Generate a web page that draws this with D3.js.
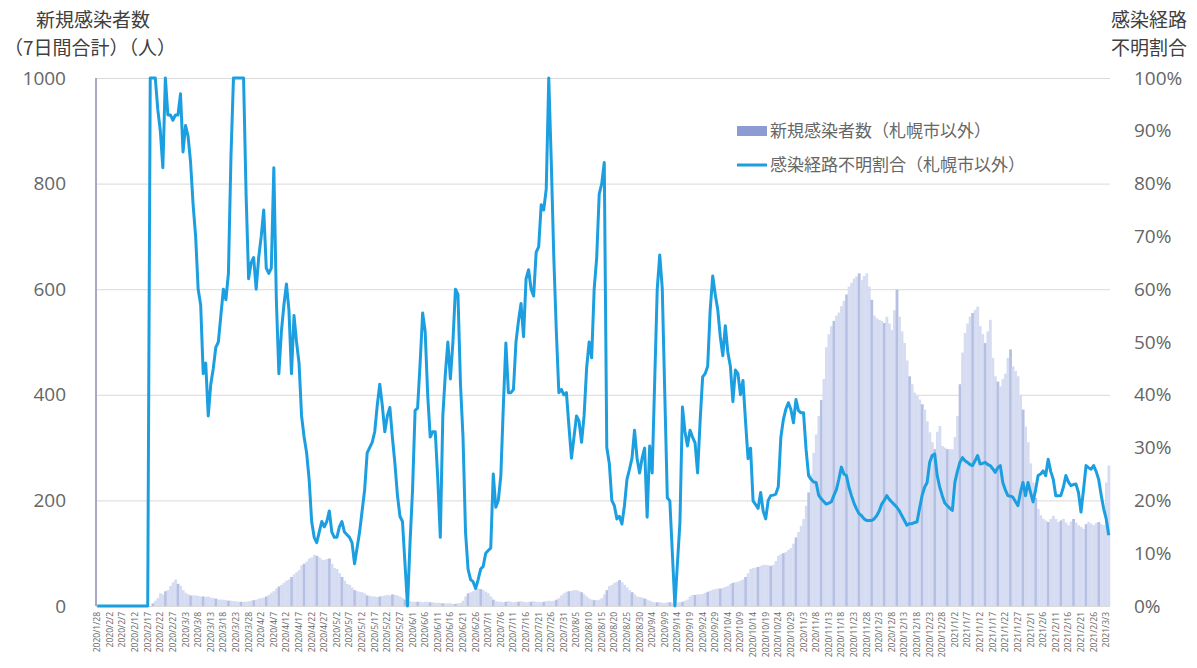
<!DOCTYPE html>
<meta charset="utf-8">
<style>
body { margin: 0; background: #fff; }
svg text { font-family: "Open Sans", "Noto Sans CJK JP", sans-serif; fill: #595959; }
svg .jp { font-family: "Noto Sans CJK JP", sans-serif; }
.grid line { stroke: #d9d9d9; stroke-width: 1; }
.grid path { display: none; }
.line { fill: none; stroke: #1c9fe0; stroke-width: 3px; stroke-linejoin: round; }
</style>
<body>
<script src="https://d3js.org/d3.v7.min.js"></script>
<script>
// daily categories, 2020/1/28 .. 2021/3/4
var startDay = new Date(2020, 0, 28);
var endDay = new Date(2021, 2, 5);
var days = d3.timeDay.range(startDay, endDay);
var fmtDay = d3.timeFormat("%Y/%-m/%-d");
var tickIdx = d3.range(0, days.length, 5);
var tickLabels = tickIdx.map(function(i) { return fmtDay(days[i]); });

var leftTicks = [0, 200, 400, 600, 800, 1000];
var rightTicks = [0, 10, 20, 30, 40, 50, 60, 70, 80, 90, 100];

// 新規感染者数（7日間合計, 札幌市以外）
var cases = [
  0,0,0,0,0,0,0,0,0,0,
  0,0,0,0,0,0,0,0,0,0,
  0,0,5,10,15,24,22,28,30,38,
  45,50,42,38,30,25,22,20,20,20,
  19,18,18,17,18,16,15,14,12,12,
  12,11,10,10,9,9,8,8,8,8,
  9,10,11,12,14,15,16,18,21,25,
  28,33,37,40,44,48,50,55,60,64,
  68,77,80,84,90,92,97,95,92,88,
  87,89,90,80,72,70,62,55,48,42,
  40,35,30,28,27,26,24,20,19,18,
  18,17,18,19,20,21,20,22,21,20,
  18,15,12,10,9,8,8,8,8,7,
  8,8,7,7,6,6,6,5,5,5,
  5,4,4,5,6,10,18,24,26,28,
  30,33,32,30,27,24,18,12,9,8,
  8,7,8,9,8,7,8,8,9,8,
  7,8,8,9,8,8,7,8,9,10,
  9,10,12,15,20,24,27,28,29,30,
  30,28,26,22,18,14,12,11,11,12,
  15,22,30,38,40,44,46,49,45,40,
  35,30,26,22,18,17,16,14,12,10,
  8,7,7,7,6,6,7,7,6,6,
  7,7,8,10,12,18,21,21,22,22,
  23,25,27,29,31,32,33,33,34,36,
  38,42,44,45,46,48,50,55,62,70,
  72,73,74,76,78,78,77,76,78,85,
  95,98,100,102,106,110,118,130,140,152,
  165,190,215,250,290,325,360,390,430,490,
  515,530,540,550,556,568,578,590,605,612,
  620,624,630,617,625,630,605,580,550,545,
  542,540,536,548,535,523,560,599,548,520,
  498,465,435,420,404,398,391,382,372,350,
  329,310,297,330,341,303,300,297,297,297,
  320,360,420,480,517,535,548,555,561,567,
  530,515,498,520,542,470,435,425,416,430,
  440,470,486,454,445,435,400,372,340,310,
  270,234,205,184,172,165,162,159,165,171,
  165,159,162,165,158,153,160,165,158,153,
  150,146,155,159,156,153,157,159,155,153,
  234,266
];

// 感染経路不明割合（%, 札幌市以外）
var unknownRatio = [
  0,0,0,0,0,0,0,0,0,0,
  0,0,0,0,0,0,0,0,0,0,
  0,100,100,100,94,90,83,100,93,93,
  92,93,93,97,86,91,89,84,76,70,
  60,57,44,46,36,42,45,49,50,55,
  60,58,63,85,100,100,100,100,100,78,
  62,65,66,60,66,70,75,64,63,64,
  83,58,44,52,57,61,56,44,55,50,
  46,36,32,29,24,16,13,12,14,16,
  15,16,18,14,13,13,15,16,14,13.5,
  13,12,8,11,14,18,22,29,30,31,
  33,38,42,38,33,36,37.6,32,27,21,
  17,16,8,0,12,22,37,37.5,46,55.5,
  52,40,32,33,33,24,13,36,44,50,
  43,50,60,59,42,32,14,7,5,4.6,
  3.3,5,7,7.5,10,10.5,11,25,18.7,20,
  24.7,38,49.8,40.4,40.4,41,50,54,57.3,51,
  62,63.7,60,58.7,67,68,76,75,79,100,
  84,66,52,40.4,41,40,40.4,34,28,32,
  36,35,31,36,45,50,47,60,66,78,
  80,84,30,27,20,19,16.5,17,15.5,19,
  24,25.9,28,33.3,28,25.2,28,29.9,16.8,30.3,
  25.2,42.7,60,66.5,60.1,40,20.5,19.9,10,0,
  8,15.8,37.7,33,30.3,33.3,32,30.9,25.2,35,
  43.4,44,45.4,56.1,62.5,59,56.1,51,47.4,53.1,
  48,45.4,38.7,44.7,44,40,42.7,35,27.9,29.9,
  19.9,19.2,18.5,21.5,18,16.5,20,20.9,21,21.2,
  22.6,31.9,35.3,37.3,38.5,37.2,34.7,39.1,37,36.6,
  36.6,29.7,24.7,24,23.5,23.4,21,20.3,19.8,19.3,
  19.5,19.7,20.9,22,24,26.3,25,24.7,22.5,20.9,
  19.5,18.4,17.5,17.1,16.5,16.2,16.2,16.2,16.5,17.1,
  18,19.3,20,20.9,20.2,19.7,19.2,18.7,18,17.1,
  16.2,15.3,15.6,15.6,15.8,15.9,18.5,20.9,22.5,23.4,
  27.2,28.5,28.8,24.7,22.5,20.9,19.5,19,18.5,18.1,
  23.4,25.5,27.2,28.1,27.5,27.2,26.8,26.6,27.5,28.5,
  26.9,27,27.2,26.8,26.6,26,25.3,26.2,26.6,23.4,
  22,20.9,20.8,20.6,19.8,19,21.5,23.4,20.9,23.4,
  21.5,19.7,22,24.7,25,25.6,24.7,27.8,25.5,24,
  20.9,20.9,20.9,22.5,24.7,23.5,22.8,23,23.1,21.5,
  17.8,22,26.6,26.2,25.9,26.6,25.5,24,21,18.4,
  16.5,13.4
];

var W = 1197, H = 668;
var margin = {top: 78, right: 87, bottom: 62, left: 96};
var x0 = margin.left, x1 = W - margin.right, yTop = margin.top, yBot = H - margin.bottom;

var svg = d3.select("body").append("svg")
    .attr("width", W)
    .attr("height", H);

var x = d3.scaleBand().domain(d3.range(days.length)).range([x0, x1]).padding(0);
var yL = d3.scaleLinear().domain([0, 1000]).range([yBot, yTop]);
var yR = d3.scaleLinear().domain([0, 100]).range([yBot, yTop]);

// gridlines
svg.append("g")
    .attr("class", "grid")
    .attr("transform", "translate(" + x0 + ",0)")
    .call(d3.axisLeft(yL).tickValues(leftTicks).tickSize(-(x1 - x0)).tickFormat(""));

// bars (every 5th a bit darker, like the striped look of the original)
svg.append("g").selectAll("rect")
    .data(cases)
  .enter().append("rect")
    .attr("x", function(d, i) { return x(i); })
    .attr("width", x.bandwidth() + 0.3)
    .attr("y", function(d) { return yL(d); })
    .attr("height", function(d) { return yBot - yL(d); })
    .attr("fill", function(d, i) { return i % 5 === 2 ? "#b6c0e2" : "#d6dcf1"; });

// left vertical axis line
svg.append("line")
    .attr("x1", x0).attr("x2", x0)
    .attr("y1", yTop).attr("y2", yBot)
    .attr("stroke", "#aaa6c8")
    .attr("stroke-width", 2);

// ratio line
var valueline = d3.line()
    .x(function(d, i) { return x(i) + x.bandwidth() / 2; })
    .y(function(d) { return yR(d); });

svg.append("path")
    .datum(unknownRatio)
    .attr("class", "line")
    .attr("d", valueline);

// left axis
var gl = svg.append("g")
    .attr("transform", "translate(" + x0 + ",0)")
    .call(d3.axisLeft(yL).tickValues(leftTicks).tickSize(0).tickPadding(30).tickFormat(d3.format("d")));
gl.select(".domain").remove();
gl.selectAll("text").style("font-size", "19px").style("fill", "#666");

// right axis
var gr = svg.append("g")
    .attr("transform", "translate(" + x1 + ",0)")
    .call(d3.axisRight(yR).tickValues(rightTicks).tickSize(0).tickPadding(24).tickFormat(function(d) { return d + "%"; }));
gr.select(".domain").remove();
gr.selectAll("text").style("font-size", "19px").style("fill", "#666");

// bottom axis
var gb = svg.append("g")
    .attr("transform", "translate(0," + yBot + ")")
    .call(d3.axisBottom(x).tickValues(tickIdx).tickSize(0).tickFormat(function(i) { return fmtDay(days[i]); }));
gb.select(".domain").remove();
gb.selectAll("text")
    .attr("x", -6)
    .attr("y", 0)
    .attr("dy", "0.35em")
    .attr("transform", "rotate(-90)")
    .style("text-anchor", "end")
    .style("font-size", "8.5px")
    .style("fill", "#666");

// axis titles
svg.append("text").attr("class", "jp")
    .attr("x", 93).attr("y", 20).attr("dy", "0.35em")
    .style("text-anchor", "middle").style("font-size", "19px").style("fill", "#404040")
    .text("新規感染者数");
svg.append("text").attr("class", "jp")
    .attr("x", 90).attr("y", 48).attr("dy", "0.35em")
    .style("text-anchor", "middle").style("font-size", "19px").style("fill", "#404040")
    .text("（7日間合計）（人）");
svg.append("text").attr("class", "jp")
    .attr("x", 1149).attr("y", 20).attr("dy", "0.35em")
    .style("text-anchor", "middle").style("font-size", "19px").style("fill", "#404040")
    .text("感染経路");
svg.append("text").attr("class", "jp")
    .attr("x", 1149).attr("y", 48).attr("dy", "0.35em")
    .style("text-anchor", "middle").style("font-size", "19px").style("fill", "#404040")
    .text("不明割合");

// legend
var legend = svg.append("g");
legend.append("rect")
    .attr("x", 737).attr("y", 126).attr("width", 30).attr("height", 10)
    .attr("fill", "#8c9cd2");
legend.append("text").attr("class", "jp")
    .attr("x", 770).attr("y", 131).attr("dy", "0.35em")
    .style("font-size", "17px").style("fill", "#666")
    .text("新規感染者数（札幌市以外）");
legend.append("line")
    .attr("x1", 737).attr("x2", 767).attr("y1", 165).attr("y2", 165)
    .attr("stroke", "#1c9fe0").attr("stroke-width", 3);
legend.append("text").attr("class", "jp")
    .attr("x", 770).attr("y", 165).attr("dy", "0.35em")
    .style("font-size", "17px").style("fill", "#666")
    .text("感染経路不明割合（札幌市以外）");
</script>
</body>
